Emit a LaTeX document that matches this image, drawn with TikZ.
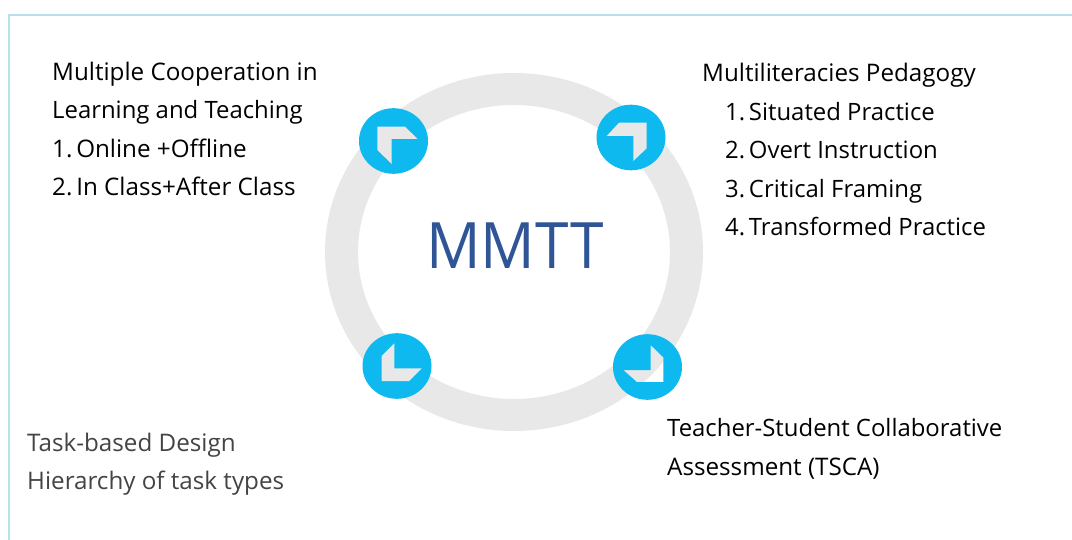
\documentclass[tikz,border=0pt]{standalone}
\usepackage{fontspec}
\setmainfont{Open Sans}
\newfontfamily\titlefont[FakeStretch=0.945]{Open Sans}
\newcommand{\numgap}{\kern-2.5pt\ }
\definecolor{ringgrey}{HTML}{E8E8E8}
\definecolor{discblue}{HTML}{0DB9EE}
\definecolor{framecol}{HTML}{B9E1EC}
\definecolor{titleblue}{HTML}{2F5597}
\definecolor{softtext}{HTML}{444444}
\tikzset{
  lab/.style={anchor=base west,inner sep=0pt,font=\fontsize{24.2}{29}\selectfont,text=black},
  labsmall/.style={lab,font=\fontsize{23.9}{29}\selectfont},
  softlab/.style={lab,text=softtext},
  disc/.style={fill=discblue,even odd rule},
}
\begin{document}
\begin{tikzpicture}[x=1pt,y=-1pt]
\useasboundingbox (0,0) rectangle (1072,540);
\fill[white] (0,0) rectangle (1072,540);
\draw[framecol,line width=2pt] (9,540) -- (9,15) -- (1072,15);
\fill[ringgrey,even odd rule] (514,252) ellipse [x radius=189,y radius=179] (514,252) ellipse [x radius=156,y radius=147];
\fill[disc] (393.5,141) ellipse [x radius=34.5,y radius=32.8];
\fill[ringgrey] (377.3,126.7) -- (405,126.7) -- (417.7,139) -- (391.7,139) -- (391.7,164) -- (377.3,150) -- cycle;
\fill[disc] (631,137.5) ellipse [x radius=34.5,y radius=32.8];
\fill[ringgrey] (619,122.7) -- (646.7,122.7) -- (646.7,148.3) -- (633.3,161) -- (633.3,136) -- (606.7,136) -- cycle;
\fill[disc] (397,366) ellipse [x radius=34.5,y radius=32.8];
\fill[ringgrey] (394.3,343.3) -- (394.3,368.3) -- (421.7,368.3) -- (409,381) -- (381.7,381) -- (381.7,356) -- cycle;
\fill[disc] (647.5,367) ellipse [x radius=34.5,y radius=32.8]
  (650.7,345) -- (663.3,357.3) -- (663.3,382) -- (636.7,382) -- (623.3,370) -- (650.7,370) -- cycle;
\node[anchor=base,inner sep=0pt,text=titleblue,font=\titlefont\fontsize{64}{70}\selectfont] (title) at (515,269) {MMTT};
\node[lab] (tl1) at (52,80.5) {Multiple Cooperation in};
\node[labsmall] (tl2) at (52,118.5) {Learning and Teaching};
\node[lab] (tl3) at (52,157.5) {1.\numgap Online +Offline};
\node[lab] (tl4) at (52,195.5) {2.\numgap In Class+After Class};
\node[lab] (tr1) at (702,81.5) {Multiliteracies Pedagogy};
\node[labsmall] (tr2) at (725,120.5) {1.\numgap Situated Practice};
\node[labsmall] (tr3) at (725,158.5) {2.\numgap Overt Instruction};
\node[labsmall] (tr4) at (725,197.5) {3.\numgap Critical Framing};
\node[labsmall] (tr5) at (725,235.5) {4.\numgap Transformed Practice};
\node[labsmall] (br1) at (667,436) {Teacher-Student Collaborative};
\node[lab] (br2) at (667,475) {Assessment (TSCA)};
\node[softlab] (bl1) at (27,451) {Task-based Design};
\node[softlab] (bl2) at (27,489) {Hierarchy of task types};
\end{tikzpicture}
\end{document}
